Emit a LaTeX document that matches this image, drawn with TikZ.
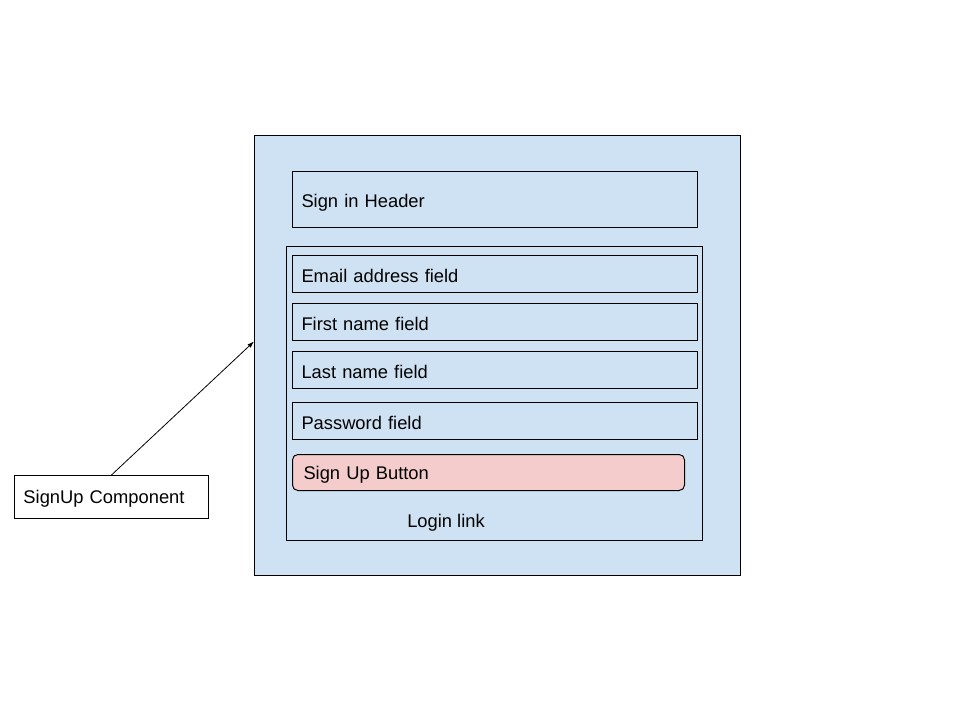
\documentclass[tikz,border=0pt]{standalone}
\usepackage{fontspec}
\setmainfont{Liberation Sans}
\usetikzlibrary{arrows.meta, positioning, calc}
\definecolor{panelblue}{HTML}{CFE2F3}
\definecolor{buttonpink}{HTML}{F4CCCC}

\begin{document}
\begin{tikzpicture}[
    x=0.75pt, y=-0.75pt,
    font=\fontsize{13.75pt}{16pt}\selectfont,
    area/.style={rectangle, draw, line width=0.75pt, fill=panelblue, inner sep=0pt, anchor=north west},
    field/.style={rectangle, draw, line width=0.75pt, fill=panelblue, minimum height=27.75pt, inner xsep=6.75pt, text width=290.25pt, align=left, text height=14pt, text depth=1pt},
    button/.style={rectangle, draw, line width=0.75pt, fill=buttonpink, rounded corners=4pt, minimum height=27pt, inner xsep=8.25pt, text width=277.5pt, align=left, anchor=north west, text height=11pt, text depth=1pt},
    note/.style={rectangle, draw, line width=0.75pt, fill=white, minimum height=32.25pt, inner xsep=6.75pt, text width=132pt, align=left, anchor=north west, text height=11pt, text depth=1pt},
    arrow/.style={-{Latex[length=5pt, width=3.5pt]}, line width=0.6pt}
  ]
    \useasboundingbox (0,0) rectangle (960,720);

    \node[area, minimum width=364.5pt, minimum height=330pt] (outer) at (254,135) {};
    \node[field, minimum height=42pt, anchor=north west, text height=12pt, text depth=0.5pt] (header) at (292,171) {Sign in Header};
    \node[area, minimum width=312pt, minimum height=220.5pt] (form) at (286,246) {};

    \node[field, anchor=north west] (email) at (292,255) {Email address field};
    \node[field, below=7.5pt of email] (first) {First name field};
    \node[field, below=7.5pt of first] (last) {Last name field};
    \node[field, below=9.75pt of last] (pass) {Password field};
    \node[button] (signup) at (292,454) {Sign Up Button};
    \node (login) at (446,523) {Login link};

    \node[note] (comp) at (14,475) {SignUp Component};
    \coordinate (tip) at ($(outer.west)+(0,-14)$);
    \draw[arrow] (comp.north) -- (tip);
  \end{tikzpicture}
\end{document}
